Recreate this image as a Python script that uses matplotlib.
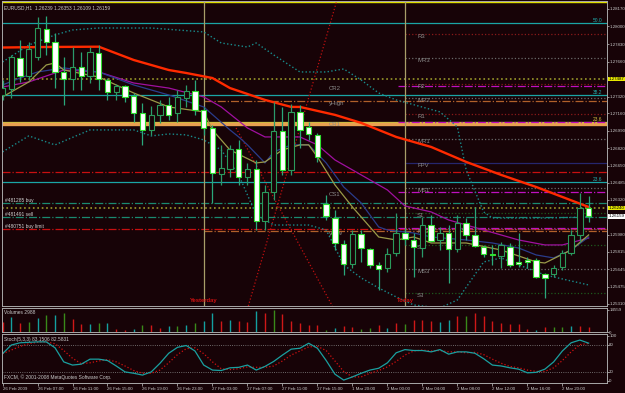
import numpy as np
import matplotlib.pyplot as plt
from matplotlib.transforms import blended_transform_factory

# ---- price data (H1 bars, 26 Feb 03:00 .. 2 Mar 23:00) ----
opens = [1.27335, 1.27394, 1.27694, 1.27520, 1.27704, 1.27976, 1.27850, 1.27559, 1.27491, 1.27607,
         1.27520, 1.27743, 1.27481, 1.27365, 1.27423, 1.27326, 1.27162, 1.26997, 1.27143, 1.27239,
         1.27162, 1.27307, 1.27375, 1.27191, 1.27016, 1.26570, 1.26618, 1.26812, 1.26541, 1.26618,
         1.26114, 1.26396, 1.26988, 1.26609, 1.27172, 1.27026, 1.26949, 1.26279, 1.26143, 1.25891,
         1.25697, 1.25988, 1.25842, 1.25687, 1.25658, 1.25804, 1.25998, 1.25930, 1.25852, 1.26075,
         1.25930, 1.25998, 1.25842, 1.26095, 1.25979, 1.25862, 1.25794, 1.25775, 1.25862, 1.25717,
         1.25736, 1.25736, 1.25600, 1.25600, 1.25668, 1.25804, 1.25979, 1.26239]
highs = [1.27481, 1.27724, 1.27869, 1.27850, 1.28092, 1.28102, 1.27937, 1.27704, 1.27801, 1.27753,
         1.27801, 1.27820, 1.27500, 1.27442, 1.27433, 1.27355, 1.27259, 1.27230, 1.27288, 1.27317,
         1.27384, 1.27433, 1.27481, 1.27220, 1.27045, 1.26852, 1.26852, 1.26900, 1.26677, 1.26706,
         1.26464, 1.27269, 1.27220, 1.27249, 1.27239, 1.27075, 1.26968, 1.26366, 1.26221, 1.25930,
         1.26027, 1.26027, 1.25852, 1.25717, 1.25852, 1.26192, 1.26046, 1.25998, 1.26153, 1.26172,
         1.26056, 1.26075, 1.26172, 1.26143, 1.26250, 1.25882, 1.25882, 1.25911, 1.25901, 1.25998,
         1.25765, 1.25756, 1.25610, 1.25687, 1.25833, 1.26027, 1.26386, 1.26353]
lows = [1.27288, 1.27307, 1.27462, 1.27481, 1.27675, 1.27724, 1.27403, 1.27239, 1.27384, 1.27384,
        1.27452, 1.27384, 1.27288, 1.27288, 1.27269, 1.27075, 1.26852, 1.26949, 1.27065, 1.27094,
        1.27075, 1.27220, 1.27143, 1.26949, 1.26288, 1.26464, 1.26541, 1.26464, 1.26464, 1.26027,
        1.26027, 1.26318, 1.26561, 1.26561, 1.26822, 1.26900, 1.26687, 1.26124, 1.25833, 1.25591,
        1.25658, 1.25717, 1.25658, 1.25445, 1.25620, 1.25775, 1.25882, 1.25571, 1.25765, 1.25911,
        1.25833, 1.25513, 1.25814, 1.25930, 1.25862, 1.25765, 1.25687, 1.25658, 1.25668, 1.25668,
        1.25658, 1.25561, 1.25368, 1.25571, 1.25639, 1.25785, 1.25911, 1.26109]
closes = [1.27403, 1.27704, 1.27520, 1.27782, 1.27985, 1.27850, 1.27559, 1.27491, 1.27607, 1.27520,
          1.27753, 1.27491, 1.27365, 1.27423, 1.27317, 1.27162, 1.26997, 1.27143, 1.27239, 1.27143,
          1.27317, 1.27375, 1.27191, 1.27016, 1.26580, 1.26628, 1.26812, 1.26541, 1.26618, 1.26114,
          1.26396, 1.26988, 1.26609, 1.27172, 1.26997, 1.26958, 1.26735, 1.26163, 1.25901, 1.25697,
          1.25988, 1.25852, 1.25687, 1.25648, 1.25794, 1.25998, 1.25940, 1.25862, 1.26075, 1.25920,
          1.25998, 1.25842, 1.26095, 1.25979, 1.25872, 1.25794, 1.25785, 1.25882, 1.25687, 1.25697,
          1.25717, 1.25571, 1.25561, 1.25658, 1.25804, 1.25979, 1.26240, 1.26159]

volumes = [6820, 9930, 6160, 6820, 9270, 11250, 11250, 12780, 8610, 5300,
           5300, 5960, 6160, 1990, 1320, 1990, 4630, 4630, 2850, 3970,
           3970, 4630, 5960, 7280, 12580, 7280, 7940, 7280, 6620, 13900,
           12580, 14559, 11920, 7280, 6160, 4630, 4630, 1320, 2850, 3970,
           3510, 1990, 2850, 4630, 2850, 5960, 5300, 7940, 7940, 7280,
           6620, 7940, 10590, 10590, 12580, 10590, 7280, 5960, 5300, 5300,
           1990, 1320, 3510, 3510, 3510, 4170, 4170, 3110]
vol_kind = "rtrgtgtgrrtgtrrtgrrtgtgttrtrrtrgrrrrrgtrrggrtrgrrrttrgrrrrrrrtrggtr"

stoch_main = [60, 79, 84, 85, 86, 86, 73, 42, 35, 37, 48, 48, 45, 33, 20, 17, 13, 20, 39, 61,
              74, 78, 66, 35, 24, 23, 29, 30, 35, 24, 32, 43, 57, 70, 72, 83, 72, 45, 15, 2,
              9, 17, 24, 28, 40, 62, 69, 67, 67, 64, 69, 59, 64, 64, 61, 49, 35, 33, 29, 26,
              18, 19, 26, 42, 66, 84, 90, 83.15]
stoch_signal = [60, 68, 76, 82, 85, 86, 82, 67, 50, 38, 40, 44, 47, 42, 33, 23, 17, 17, 24, 40,
                58, 71, 73, 60, 42, 27, 25, 27, 31, 30, 30, 33, 44, 57, 66, 75, 76, 67, 44, 21,
                9, 9, 17, 23, 31, 43, 57, 66, 68, 66, 67, 64, 64, 62, 63, 58, 48, 39, 32, 29,
                24, 21, 21, 29, 45, 64, 80, 82.58]

# ---- moving averages / bands read at selected bars ----
ma_red_x = [0, 5, 11, 15, 19, 21, 24, 26, 30, 33, 34, 38, 41, 43, 45, 49, 53, 57, 61, 64, 67]
ma_red = [1.27796, 1.27801, 1.27804, 1.27675, 1.27578, 1.27549, 1.27500, 1.27403, 1.27288, 1.27220,
          1.27220, 1.27143, 1.27065, 1.26997, 1.26929, 1.26832, 1.26687, 1.26561, 1.26444, 1.26347, 1.26250]
ma_purple_x = [0, 3, 7, 11, 15, 19, 23, 25, 28, 30, 34, 36, 38, 41, 44, 46, 49, 51, 55, 59, 62, 64, 67]
ma_purple = [1.27413, 1.27462, 1.27578, 1.27559, 1.27452, 1.27403, 1.27317, 1.27220, 1.27016, 1.26929,
             1.26929, 1.26852, 1.26706, 1.26561, 1.26415, 1.26260, 1.26202, 1.26124, 1.26027, 1.25930,
             1.25882, 1.25882, 1.25949]
ma_blue_x = [0, 2, 4, 7, 11, 15, 19, 23, 26, 27, 28, 30, 31, 33, 35, 37, 39, 41, 43, 44, 47, 49, 53,
             56, 59, 61, 63, 65, 67]
ma_blue = [1.27433, 1.27500, 1.27559, 1.27598, 1.27559, 1.27433, 1.27336, 1.27220, 1.26997, 1.26929,
           1.26852, 1.26677, 1.26784, 1.26852, 1.26852, 1.26677, 1.26444, 1.26289, 1.26056, 1.26027,
           1.25998, 1.25959, 1.25930, 1.25901, 1.25852, 1.25785, 1.25756, 1.25833, 1.25959]
ma_olive_x = [0, 3, 5, 6, 7, 11, 15, 19, 23, 24, 26, 29, 30, 32, 34, 35, 36, 38, 40, 42, 43, 45, 47,
              49, 53, 57, 61, 62, 65, 67]
ma_olive = [1.27317, 1.27462, 1.27627, 1.27646, 1.27578, 1.27510, 1.27355, 1.27220, 1.27172, 1.26997,
            1.26803, 1.26677, 1.26687, 1.26803, 1.26852, 1.26852, 1.26735, 1.26464, 1.26250, 1.26056,
            1.25959, 1.25930, 1.25959, 1.25901, 1.25901, 1.25833, 1.25717, 1.25707, 1.25833, 1.25979]
bb_up_x = [0, 3, 6, 8, 11, 17, 23, 25, 28, 29, 31, 34, 37, 39, 41, 43, 45, 50, 52, 53, 55, 56, 62, 67]
bb_up = [1.27656, 1.27820, 1.27918, 1.27966, 1.27985, 1.27985, 1.27947, 1.27840, 1.27801, 1.27840,
         1.27724, 1.27559, 1.27559, 1.27588, 1.27481, 1.27355, 1.27288, 1.27172, 1.27026, 1.26609,
         1.26202, 1.26143, 1.26143, 1.26153]
bb_lo_x = [0, 3, 6, 10, 15, 17, 19, 21, 23, 25, 27, 29, 31, 33, 35, 37, 39, 41, 43, 45, 47, 50, 52,
           55, 57, 59, 62, 67]
bb_lo = [1.26784, 1.26939, 1.26852, 1.26997, 1.26997, 1.26939, 1.26958, 1.26949, 1.26900, 1.26803,
         1.26561, 1.26172, 1.26075, 1.26075, 1.26075, 1.26027, 1.25688, 1.25562, 1.25465, 1.25378,
         1.25300, 1.25271, 1.25349, 1.25717, 1.25756, 1.25688, 1.25591, 1.25494]

# ---- horizontal objects ----
full_lines = [  # price, colour, style, width
    (1.28238, '#e0e000', '-', 1.0),
    (1.28029, '#1aa5a5', '-', 0.9),
    (1.27491, '#9a9a2a', ':', 1.2),
    (1.27336, '#1aa5a5', '-', 0.9),
    (1.27075, '#c8c040', '-', 0.9),
    (1.27050, '#e8a050', '-', 2.4),
    (1.26590, '#c81010', '-.', 0.9),
    (1.26493, '#1aa5a5', '-', 0.9),
    (1.26289, '#1a8a70', '-.', 0.9),
    (1.26240, '#9a9a2a', ':', 1.2),
    (1.26153, '#1a8a70', '-.', 0.9),
    (1.26037, '#c81010', '-.', 0.9),
]
order_names = ['#481285 buy', '#481491 sell', '#480751 buy limit']
order_prices = [1.26289, 1.26153, 1.26037]

yday_names = ['yHigh', 'yLow']
yday_prices = [1.27278, 1.26017]
cam_names = ['CR2', 'CR1', 'CS1', 'CS2']
cam_prices = [1.27423, 1.27075, 1.26396, 1.26046]
piv_names = ['R3', 'MR3', 'R2', 'MR2', 'R1', 'MR1', 'FPV', 'MS1', 'S1', 'MS2', 'S2', 'MS3', 'S3']
piv_prices = [1.27927, 1.27695, 1.27442, 1.27307, 1.27152, 1.26910, 1.26677, 1.26434, 1.26192,
              1.26037, 1.25882, 1.25649, 1.25416]

fib_names = ['50.0', '38.2', '23.6', '23.6']
fib_prices = [1.28029, 1.27336, 1.27075, 1.26493]
fib_colors = ['#20b0b0', '#20b0b0', '#d0c040', '#20b0b0']

price_ticks = ['1.28170', '1.28000', '1.27830', '1.27660', '1.27320', '1.27160', '1.26990',
               '1.26820', '1.26650', '1.26485', '1.26320', '1.25980', '1.25815', '1.25645',
               '1.25475', '1.25310']
time_ticks = ['26 Feb 2009', '26 Feb 07:00', '26 Feb 11:00', '26 Feb 15:00', '26 Feb 19:00',
              '26 Feb 23:00', '27 Feb 03:00', '27 Feb 07:00', '27 Feb 11:00', '27 Feb 15:00',
              '1 Mar 20:00', '2 Mar 00:00', '2 Mar 04:00', '2 Mar 08:00', '2 Mar 12:00',
              '2 Mar 16:00', '2 Mar 20:00']

yesterday_bar, today_bar = 23, 46
diag_a = ([28.1, 38.2], [1.25290, 1.28247])
diag_b = ([26.7, 37.7], [1.27016, 1.25290])

BG = '#170307'
GRID = '#a8a8a8'
TXT = '#c8c8c8'
FS = 3.5
AFS = 3.2
plt.rcParams['font.family'] = ['Liberation Sans', 'DejaVu Sans']

W, H = 625, 393


def px_box(x0, y0, x1, y1):
    return [x0 / W, 1 - y1 / H, (x1 - x0) / W, (y1 - y0) / H]


fig = plt.figure(figsize=(6.25, 3.93), dpi=100, facecolor=BG)
ax = fig.add_axes(px_box(2, 1, 607, 306))
axv = fig.add_axes(px_box(2, 308, 607, 332))
axs = fig.add_axes(px_box(2, 334, 607, 383))

n = len(opens)
xs = np.arange(n)
for a in (ax, axv, axs):
    a.set_facecolor(BG)
    a.set_xlim(-0.06, 69.1)
    for s in a.spines.values():
        s.set_color(GRID)
        s.set_linewidth(0.7)

# main panel
ax.set_ylim(1.25290, 1.28247)
for p, c, ls, lw in full_lines:
    ax.axhline(p, color=c, ls=ls, lw=lw, zorder=1)
for p in yday_prices:
    ax.plot([yesterday_bar, 69.1], [p, p], color='#b0602a', ls='-.', lw=0.9, zorder=1)
for p in cam_prices:
    ax.plot([today_bar - 0.8, 69.1], [p, p], color='#c010c0', ls='-.', lw=0.9, zorder=1)
for name, p in zip(piv_names, piv_prices):
    if name.startswith('R'):
        c, ls = '#8a1a1a', ':'
    elif name.startswith('S'):
        c, ls = '#1e5a1e', ':'
    elif name == 'FPV':
        c, ls = '#26266e', '-'
    else:
        c, ls = '#6a6a6a', ':'
    ax.plot([today_bar, 69.1], [p, p], color=c, ls=ls, lw=0.9, zorder=1)
    ax.text(47.4, p, name, color='#8a8a8a', fontsize=4.3, va='top', ha='left', zorder=1)
for name, p in zip(cam_names[:3], cam_prices[:3]):
    ax.text(37.3, p, name, color='#8a8a8a', fontsize=4.3, va='top', ha='left', zorder=1)
ax.text(37.3, yday_prices[0], 'yHigh', color='#8a8a8a', fontsize=4.3, va='top', ha='left', zorder=1)
ax.text(37.3, yday_prices[1], 'yLow', color='#8a8a8a', fontsize=4.3, va='top', ha='left', zorder=1)
for name, p in zip(order_names, order_prices):
    ax.text(0.3, p, name, color='#d0d0d0', fontsize=FS, va='bottom', ha='left', zorder=1)
for name, p, c in zip(fib_names, fib_prices, fib_colors):
    ax.text(68.6, p, name, color=c, fontsize=FS, va='bottom', ha='right', zorder=1)

for b in (yesterday_bar, today_bar):
    ax.axvline(b, color='#a89e68', lw=0.9, zorder=1)
ax.text(yesterday_bar, 1.25339, 'Yesterday', color='#d01010', fontsize=4.2, fontweight='bold',
        ha='center', va='center')
ax.text(today_bar, 1.25339, 'Today', color='#d01010', fontsize=4.2, fontweight='bold',
        ha='center', va='center')
ax.plot(*diag_a, color='#c01010', ls=':', lw=0.9, zorder=1)
ax.plot(*diag_b, color='#c01010', ls=':', lw=0.9, zorder=1)

ax.plot(bb_up_x, bb_up, color='#188c8c', ls=':', lw=1.0, zorder=2)
ax.plot(bb_lo_x, bb_lo, color='#188c8c', ls=':', lw=1.0, zorder=2)
ax.plot(ma_purple_x, ma_purple, color='#a010a0', lw=0.9, zorder=2)
ax.plot(ma_blue_x, ma_blue, color='#2a3c8c', lw=0.9, zorder=2)
ax.plot(ma_olive_x, ma_olive, color='#9a9a48', lw=0.9, zorder=2)
ax.plot(ma_red_x, ma_red, color='#ff2a00', lw=1.7, zorder=2)

o = np.array(opens)
c = np.array(closes)
bull = c >= o
wick_col = np.where(bull, '#2a9a6a', '#2aa87a')
ax.vlines(xs, lows, highs, colors=wick_col, lw=0.9, zorder=3)
body_low = np.minimum(o, c)
body_h = np.maximum(np.abs(c - o), 0.00004)
ax.bar(xs, body_h, bottom=body_low, width=0.62,
       color=np.where(bull, BG, 'white'), edgecolor=np.where(bull, '#2a9a5a', '#30e030'),
       lw=0.8, zorder=4)

ax.yaxis.tick_right()
ax.set_yticks([float(t) for t in price_ticks])
ax.set_yticklabels(price_ticks)
ax.tick_params(axis='y', colors=TXT, labelsize=AFS, length=1.2, width=0.5, pad=0.4)
ax.set_xticks([])
tr = blended_transform_factory(ax.transAxes, ax.transData)
for p, lab, fc in [(1.27491, '1.27487', '#e8e800'), (1.26240, '1.26240', '#e8e800'),
                   (1.26159, '1.26159', 'white')]:
    ax.text(1.003, p, lab, transform=tr, fontsize=AFS, color='black', ha='left', va='center',
            bbox=dict(facecolor=fc, edgecolor='none', pad=0.3), clip_on=False)
ax.text(0.003, 0.985, 'EURUSD,H1  1.26239 1.26353 1.26109 1.26159', transform=ax.transAxes,
        color=TXT, fontsize=FS, va='top', ha='left')

# volume panel
vmap = {'r': '#d01818', 'g': '#3a8a1a', 't': '#14a0a0'}
axv.vlines(xs, 0, volumes, colors=[vmap[k] for k in vol_kind], lw=1.0)
axv.set_ylim(0, 15882)
axv.yaxis.tick_right()
axv.set_yticks([0, 14559])
axv.set_yticklabels(['0', '14559'])
axv.tick_params(axis='y', colors=TXT, labelsize=AFS, length=1.2, width=0.5, pad=0.4)
axv.set_xticks([])
axv.text(0.004, 0.9, 'Volumes 2988', transform=axv.transAxes, color=TXT, fontsize=FS,
         va='top', ha='left')

# stochastic panel
axs.set_ylim(-4.4, 103.3)
for lvl in (20, 80):
    axs.axhline(lvl, color='#8a8a8a', ls=':', lw=0.6)
axs.plot(xs, stoch_signal, color='#d01010', ls=':', lw=0.9)
axs.plot(xs, stoch_main, color='#1aa0a0', lw=0.9)
axs.yaxis.tick_right()
axs.set_yticks([0, 20, 80, 100])
axs.set_yticklabels(['0', '20', '80', '100'])
axs.tick_params(axis='y', colors=TXT, labelsize=AFS, length=1.2, width=0.5, pad=0.4)
axs.set_xticks(np.arange(0, 68, 4))
axs.set_xticklabels(time_ticks)
axs.tick_params(axis='x', colors=TXT, labelsize=AFS, length=2, width=0.5, pad=1)
for t in axs.get_xticklabels():
    t.set_ha('left')
axs.text(0.004, 0.93, 'Stoch(5,3,3) 83.1506 82.5831', transform=axs.transAxes, color=TXT,
         fontsize=FS, va='top', ha='left')
axs.text(0.004, 0.12, 'FXCM, \u00a9 2001-2008 MetaQuotes Software Corp.', transform=axs.transAxes,
         color=TXT, fontsize=FS, va='center', ha='left')

fig.savefig('out.png', dpi=100, facecolor=BG)
